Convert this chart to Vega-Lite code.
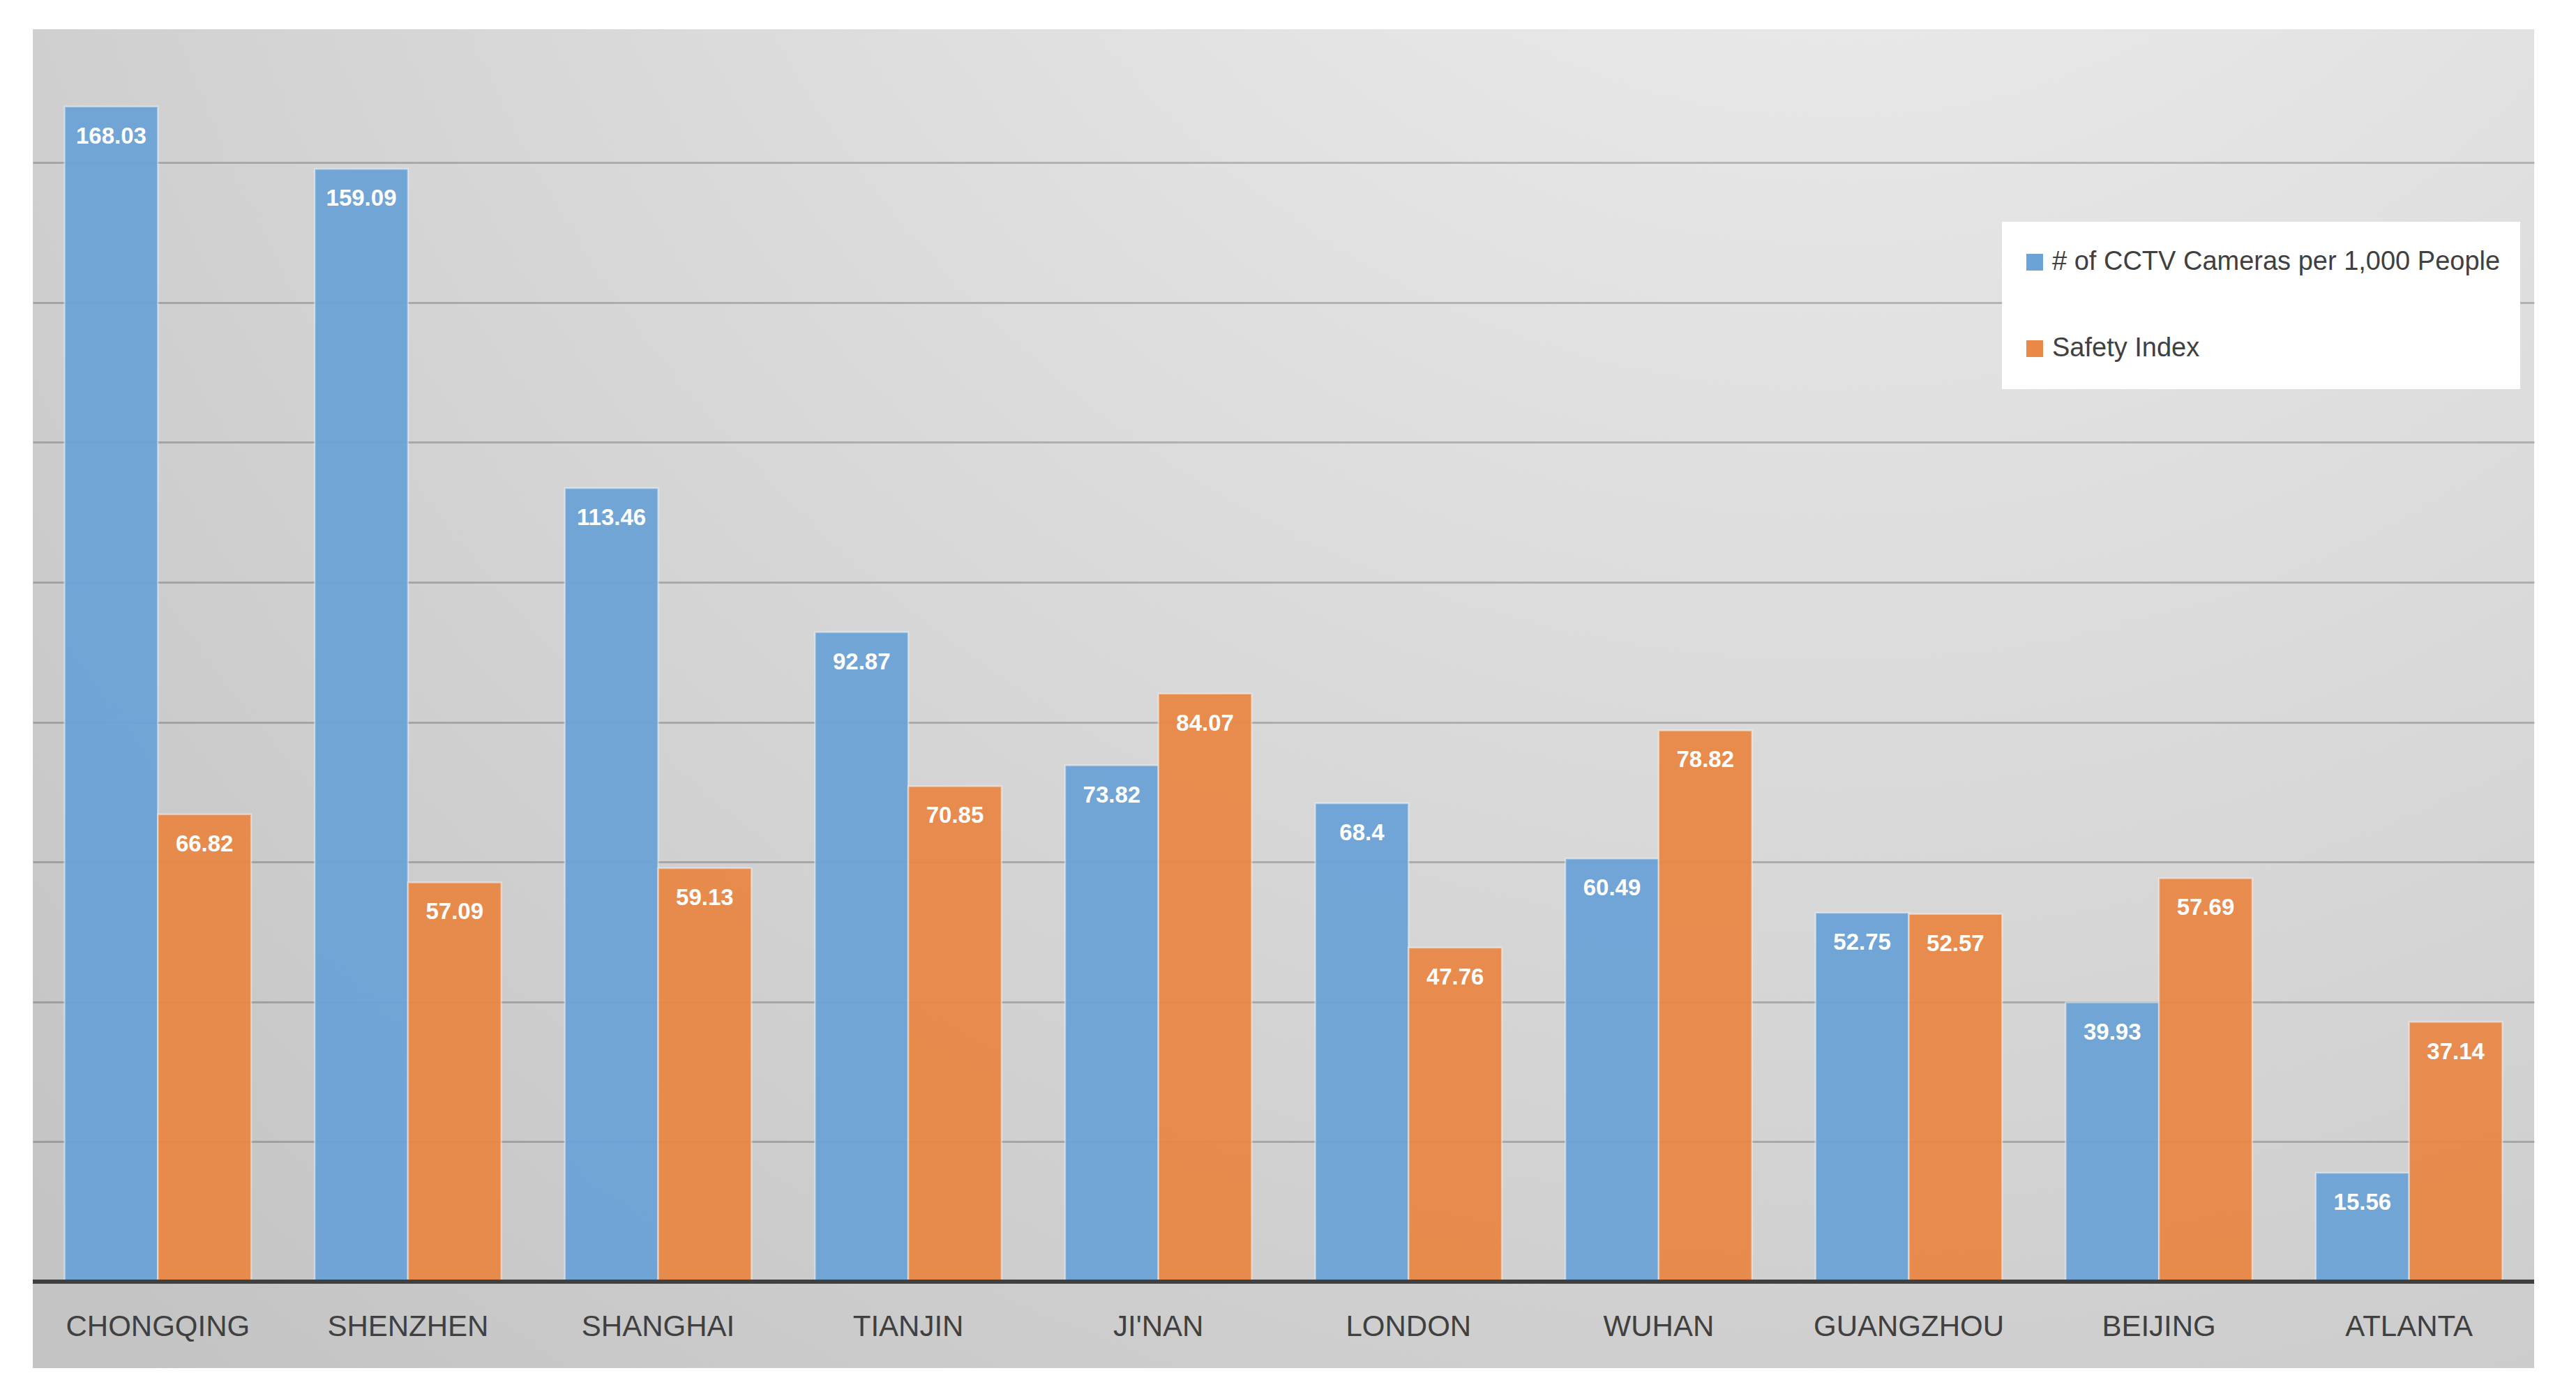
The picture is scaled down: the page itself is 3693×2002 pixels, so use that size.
{
  "$schema": "https://vega.github.io/schema/vega-lite/v6.json",
  "width": 3586,
  "height": 1920,
  "autosize": {"type": "none"},
  "padding": {"left": 47, "top": 42, "right": 60, "bottom": 40},
  "background": "white",
  "config": {
    "view": {
      "stroke": null,
      "fill": {
        "gradient": "radial",
        "x1": 0.72, "y1": 0.0, "r1": 0,
        "x2": 0.72, "y2": 0.0, "r2": 1.0,
        "stops": [
          {"offset": 0, "color": "#f2f2f2"},
          {"offset": 1, "color": "#c4c4c4"}
        ]
      }
    },
    "font": "Liberation Sans"
  },
  "data": {
    "values": [
      {"city": "CHONGQING", "series": "# of CCTV Cameras per 1,000 People", "value": 168.03},
      {"city": "CHONGQING", "series": "Safety Index", "value": 66.82},
      {"city": "SHENZHEN", "series": "# of CCTV Cameras per 1,000 People", "value": 159.09},
      {"city": "SHENZHEN", "series": "Safety Index", "value": 57.09},
      {"city": "SHANGHAI", "series": "# of CCTV Cameras per 1,000 People", "value": 113.46},
      {"city": "SHANGHAI", "series": "Safety Index", "value": 59.13},
      {"city": "TIANJIN", "series": "# of CCTV Cameras per 1,000 People", "value": 92.87},
      {"city": "TIANJIN", "series": "Safety Index", "value": 70.85},
      {"city": "JI'NAN", "series": "# of CCTV Cameras per 1,000 People", "value": 73.82},
      {"city": "JI'NAN", "series": "Safety Index", "value": 84.07},
      {"city": "LONDON", "series": "# of CCTV Cameras per 1,000 People", "value": 68.4},
      {"city": "LONDON", "series": "Safety Index", "value": 47.76},
      {"city": "WUHAN", "series": "# of CCTV Cameras per 1,000 People", "value": 60.49},
      {"city": "WUHAN", "series": "Safety Index", "value": 78.82},
      {"city": "GUANGZHOU", "series": "# of CCTV Cameras per 1,000 People", "value": 52.75},
      {"city": "GUANGZHOU", "series": "Safety Index", "value": 52.57},
      {"city": "BEIJING", "series": "# of CCTV Cameras per 1,000 People", "value": 39.93},
      {"city": "BEIJING", "series": "Safety Index", "value": 57.69},
      {"city": "ATLANTA", "series": "# of CCTV Cameras per 1,000 People", "value": 15.56},
      {"city": "ATLANTA", "series": "Safety Index", "value": 37.14}
    ]
  },
  "layer": [
    {
      "mark": {"type": "bar", "stroke": "#ffffff", "strokeOpacity": 0.45, "strokeWidth": 2.5, "opacity": 0.95},
      "encoding": {
        "x": {
          "field": "city", "type": "nominal", "sort": null,
          "scale": {"paddingInner": 0.254, "paddingOuter": 0.127},
          "axis": {
            "orient": "bottom", "offset": -124, "domain": false, "ticks": false, "tickSize": 0,
            "labelAngle": 0, "labelFontSize": 42, "labelColor": "#404040", "labelLimit": 2000,
            "labelPadding": 77, "labelBaseline": "alphabetic", "title": null, "grid": false
          }
        },
        "xOffset": {
          "field": "series", "type": "nominal",
          "sort": ["# of CCTV Cameras per 1,000 People", "Safety Index"],
          "scale": {"paddingInner": 0, "paddingOuter": 0}
        },
        "y": {
          "field": "value", "type": "quantitative",
          "scale": {"domain": [-12.36, 179.06], "zero": false, "nice": false},
          "axis": {
            "orient": "left", "values": [20, 40, 60, 80, 100, 120, 140, 160],
            "labels": false, "ticks": false, "domain": false, "title": null,
            "grid": true, "gridColor": "#000000", "gridOpacity": 0.2, "gridWidth": 3
          }
        },
        "color": {
          "field": "series", "type": "nominal",
          "sort": ["# of CCTV Cameras per 1,000 People", "Safety Index"],
          "scale": {
            "domain": ["# of CCTV Cameras per 1,000 People", "Safety Index"],
            "range": ["#6CA3D7", "#E98847"]
          },
          "legend": {
            "orient": "none", "legendX": 2823, "legendY": 276, "title": null,
            "fillColor": "white", "padding": 28, "direction": "vertical",
            "symbolType": "square", "symbolSize": 576, "symbolStrokeWidth": 0, "symbolOpacity": 1,
            "labelFontSize": 38, "labelColor": "#404040", "labelLimit": 2000,
            "clipHeight": 60, "rowPadding": 64, "labelOffset": 6
          }
        }
      }
    },
    {
      "mark": {"type": "text", "color": "white", "fontWeight": "bold", "fontSize": 33, "baseline": "alphabetic", "align": "center", "dy": 53},
      "encoding": {
        "x": {"field": "city", "type": "nominal", "sort": null},
        "xOffset": {"field": "series", "type": "nominal", "sort": ["# of CCTV Cameras per 1,000 People", "Safety Index"]},
        "y": {"field": "value", "type": "quantitative"},
        "text": {"field": "value", "type": "quantitative", "format": ".5~r"}
      }
    },
    {
      "data": {"values": [{"base": 0}]},
      "mark": {"type": "rule", "color": "#404040", "strokeWidth": 6},
      "encoding": {
        "y": {"field": "base", "type": "quantitative"}
      }
    }
  ]
}
